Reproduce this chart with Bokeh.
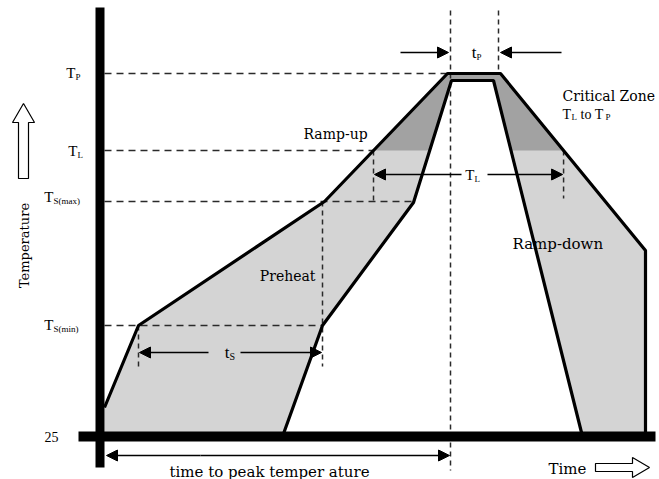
import numpy as np
from bokeh.plotting import figure
from bokeh.models import Range1d, Arrow, NormalHead
from bokeh.core.properties import value
from bokeh.embed import file_html
from bokeh.resources import INLINE

# ---------------- data ----------------
# time in diagram units from the temperature axis, temperature in level units above the 25 °C baseline
outer_time = [4, 38, 224, 347, 400, 545, 545]
outer_temp = [29, 111, 235, 363, 363, 186, 0]
inner_time = [182, 222, 313, 351, 393, 482]
inner_temp = [0, 111, 234, 356, 356, 0]

level_main = ["T", "T", "T", "T"]
level_sub = ["P", "L", "S(max)", "S(min)"]
level_temp = [363, 286, 235, 111]
base_label = "25"

peak_window = [350, 398]   # start / end of tP
axis_time_end = 555
axis_temp_top = 429

FONT = value("DejaVu Serif")
FONT2 = value("Liberation Serif")
LIGHT = "#d4d4d4"
DARK = "#a2a2a2"
DASH_COL = "#2a2a2a"

# pixel helpers for annotation layout (reference pixel -> data)
def X(px):
    return px - 100

def Y(py):
    return 436 - py

W, H = 659, 479
p = figure(width=W, height=H, output_backend="svg", toolbar_location=None,
           x_range=Range1d(X(0), X(W)), y_range=Range1d(Y(H), Y(0)),
           x_axis_location=None, y_axis_location=None, min_border=0)
p.grid.visible = False
p.outline_line_color = None
p.background_fill_color = "white"

TP, TL, TSMAX, TSMIN = level_temp

# ---------------- fills ----------------
p.patch(outer_time + [outer_time[0]], outer_temp + [0], fill_color=LIGHT, line_color=None)

rise_t = outer_time[:4]
rise_T = outer_temp[:4]
fall_t = outer_time[4:][::-1]
fall_T = outer_temp[4:][::-1]
xl = float(np.interp(TL, rise_T, rise_t))
xr = float(np.interp(TL, fall_T, fall_t))
p.patch([xl, outer_time[3], outer_time[4], xr], [TL, TP, TP, TL], fill_color=DARK, line_color=None)
p.patch(inner_time, inner_temp, fill_color="white", line_color=None)

# ---------------- dashed guides ----------------
hx0 = [4, 4, 4, 4]
hx1 = [outer_time[3], xl, inner_time[2], inner_time[1]]
hy = [TP, TL, TSMAX, TSMIN]
p.segment(hx0, hy, hx1, hy, line_color=DASH_COL, line_width=1.5, line_dash="7 5")

vx = [inner_time[1], outer_time[1], xl, xr, peak_window[0], peak_window[1]]
vy0 = [TSMAX, TSMIN, TL, TL, Y(10), Y(10)]
vy1 = [Y(366), Y(368), Y(202), Y(198), Y(470), TP]
p.segment(vx, vy0, vx, vy1, line_color=DASH_COL, line_width=1.5, line_dash="5 4")

# ---------------- profile lines ----------------
p.line(outer_time, outer_temp, line_color="black", line_width=3.2)
p.line(inner_time, inner_temp, line_color="black", line_width=3.2)

# ---------------- axes bars ----------------
p.quad(left=[X(95)], right=[X(104)], bottom=[Y(467)], top=[axis_temp_top], fill_color="black", line_color=None)
p.quad(left=[X(78)], right=[axis_time_end], bottom=[Y(441)], top=[Y(431)], fill_color="black", line_color=None)

# ---------------- dimension arrows ----------------
def arrow(x0, y0, x1, y1):
    head = NormalHead(size=11, fill_color="black", line_color="black")
    p.add_layout(Arrow(start=None, end=head, x_start=x0, y_start=y0, x_end=x1, y_end=y1,
                       line_color="black", line_width=1.6))

ys = Y(352)
arrow(X(208), ys, outer_time[1] + 1, ys)
arrow(X(240), ys, inner_time[1] - 1, ys)
yl = Y(174)
arrow(X(461), yl, xl + 1, yl)
arrow(X(487), yl, xr - 1, yl)
yp = Y(52)
arrow(X(400), yp, peak_window[0] - 2, yp)
arrow(X(561), yp, peak_window[1] + 2, yp)
arrow(X(200), Y(455), peak_window[0] - 1, Y(455))
arrow(X(200), Y(455), X(106), Y(455))

# ---------------- hollow direction arrows ----------------
up_x = [X(v) for v in [23, 34, 28, 28, 18, 18, 12]]
up_y = [Y(v) for v in [103, 122, 122, 178, 178, 122, 122]]
p.patch(up_x, up_y, fill_color="white", line_color="black", line_width=1.2)
rt_x = [X(v) for v in [595, 632, 632, 649, 632, 632, 595]]
rt_y = [Y(v) for v in [463, 463, 457, 467, 477, 471, 471]]
p.patch(rt_x, rt_y, fill_color="white", line_color="black", line_width=1.2)

# ---------------- texts ----------------
def txt(x, y, s, size=14, align="left", angle=0.0, font=FONT):
    p.text(x=[x], y=[y], text=[s], text_font=font, text_font_size=f"{size}px",
           text_align=align, text_baseline="middle", angle=angle, text_color="black")

# level labels on the temperature axis
main_edge = [75, 77, 53, 53]
label_py = [72, 150, 196, 324]
for m, s, e, py in zip(level_main, level_sub, main_edge, label_py):
    txt(X(e), Y(py), m, size=15, align="right", font=FONT2)
    txt(X(e), Y(py + 4), s, size=9, align="left", font=FONT2)
txt(X(58), 0, base_label, size=14, align="right", font=FONT2)

# tP, tS, TL labels
txt(X(476), yp, "t", size=17, align="right", font=FONT2)
txt(X(476), Y(56), "P", size=9, font=FONT2)
txt(X(229), ys, "t", size=17, align="right", font=FONT2)
txt(X(229), Y(356), "S", size=10, font=FONT2)
txt(X(474), yl, "T", size=15, align="right", font=FONT2)
txt(X(474), Y(178), "L", size=9, font=FONT2)

txt(X(303), Y(133), "Ramp-up", size=14)
txt(X(315), Y(275), "Preheat", size=14, align="right")
txt(X(512), Y(243), "Ramp-down", size=15)
txt(X(562), Y(95), "Critical Zone", size=14)
txt(X(562), Y(114), "T", size=14, font=FONT2)
txt(X(571), Y(116), "L", size=9, font=FONT2)
txt(X(580), Y(114), "to T", size=14, font=FONT2)
txt(X(605), Y(116), "P", size=9, font=FONT2)

txt(X(269), Y(471), "time to peak temper ature", size=15, align="center")
txt(X(567), Y(468), "Time", size=15, align="center")
txt(X(24), Y(245), "Temperature", size=13, align="center", angle=np.pi / 2)

open("out.html", "w").write(file_html(p, INLINE))
